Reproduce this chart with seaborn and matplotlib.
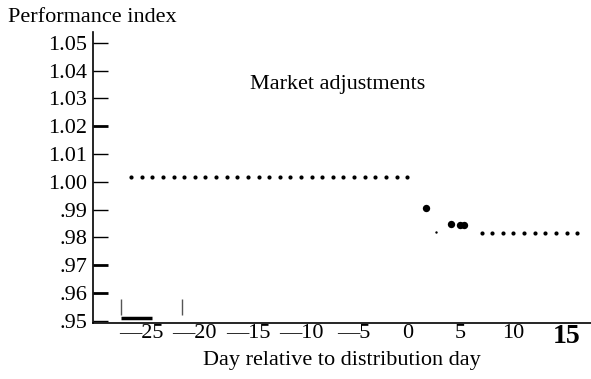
#!/usr/bin/env python3
"""Performance index around the distribution day (scanned-style chart)."""

import matplotlib
matplotlib.use("Agg")
import matplotlib.pyplot as plt
import pandas as pd
import seaborn as sns

# Daily index before the distribution day
PRE_DAYS = [-26, -25, -24, -23, -22, -21, -20, -19, -18, -17, -16, -15, -14,
            -13, -12, -11, -10, -9, -8, -7, -6, -5, -4, -3, -2, -1, 0]
PRE_VALUES = [1.0017, 1.0017, 1.0017, 1.0017, 1.0017, 1.0017, 1.0017, 1.0017,
              1.0017, 1.0017, 1.0017, 1.0017, 1.0017, 1.0017, 1.0017, 1.0017,
              1.0017, 1.0017, 1.0017, 1.0017, 1.0017, 1.0017, 1.0017, 1.0017,
              1.0017, 1.0017, 1.0017]
# Adjustment points just after the distribution day
ADJ_DAYS = [1.8, 4.1, 5.0, 5.3]
ADJ_VALUES = [0.9905, 0.9847, 0.9845, 0.9843]
SMALL_DAYS = [2.7]
SMALL_VALUES = [0.9818]
# Daily index after the adjustment
POST_DAYS = [7, 8, 9, 10, 11, 12, 13, 14, 15, 16]
POST_VALUES = [0.9815, 0.9815, 0.9815, 0.9815, 0.9815, 0.9815, 0.9815,
               0.9815, 0.9815, 0.9815]
# Stray marks near the bottom
MARK_DAYS = [-26.9, -21.2]
BAR_DAYS = (-26.9, -24.0)
BAR_VALUE = 0.9509

Y_TICKS = [1.05, 1.04, 1.03, 1.02, 1.01, 1.00, 0.99, 0.98, 0.97, 0.96, 0.95]
Y_LABELS = ["1.05", "1.04", "1.03", "1.02", "1.01", "1.00",
            ".99", ".98", ".97", ".96", ".95"]
X_TICKS = [-25, -20, -15, -10, -5, 0, 5, 10, 15]
X_LABELS = ["\u201425", "\u201420", "\u201415", "\u201410", "\u20145",
            "0", "5", "10", "15"]

sns.set_theme(style="white")
plt.rcParams["font.family"] = ["Liberation Serif", "DejaVu Serif"]
plt.rcParams["axes.unicode_minus"] = False

fig = plt.figure(figsize=(5.91, 3.79), dpi=100)
ax = fig.add_axes([0.157, 0.148, 0.843, 0.768])

pre = pd.DataFrame({"day": PRE_DAYS, "value": PRE_VALUES})
post = pd.DataFrame({"day": POST_DAYS, "value": POST_VALUES})
adj = pd.DataFrame({"day": ADJ_DAYS, "value": ADJ_VALUES})
small = pd.DataFrame({"day": SMALL_DAYS, "value": SMALL_VALUES})

sns.scatterplot(data=pre, x="day", y="value", ax=ax, s=9, color="black",
                linewidth=0)
sns.scatterplot(data=post, x="day", y="value", ax=ax, s=9, color="black",
                linewidth=0)
sns.scatterplot(data=adj, x="day", y="value", ax=ax, s=28, color="black",
                linewidth=0)
sns.scatterplot(data=small, x="day", y="value", ax=ax, s=3, color="black",
                linewidth=0)

# Stray marks
ax.vlines(MARK_DAYS, 0.9521, 0.9579, color="#555555", lw=1)
ax.hlines(BAR_VALUE, BAR_DAYS[0], BAR_DAYS[1], color="black", lw=2.5)

ax.set_xlim(-29.6, 17.3)
ax.set_ylim(0.9492, 1.054)

ax.set_yticks(Y_TICKS)
ax.set_yticklabels(Y_LABELS, fontsize=16)
ax.set_xticks(X_TICKS)
ax.set_xticklabels(X_LABELS, fontsize=16)
ax.get_xticklabels()[-1].set_fontsize(20)
ax.get_xticklabels()[-1].set_fontweight("bold")
ax.tick_params(axis="y", left=True, direction="in", length=11, width=1,
               pad=4, colors="black")
ax.tick_params(axis="x", bottom=False, length=0, pad=1, colors="black")
for i in (3, 8, 9):
    ax.yaxis.get_major_ticks()[i].tick1line.set_markeredgewidth(2)

for side in ("top", "right"):
    ax.spines[side].set_visible(False)
for side in ("left", "bottom"):
    ax.spines[side].set_color("black")
    ax.spines[side].set_linewidth(1.2)

ax.set_xlabel("Day relative to distribution day", fontsize=16, labelpad=1,
              color="black")
ax.set_ylabel("")
ax.text(0.492, 0.82, "Market adjustments", transform=ax.transAxes,
        ha="center", va="center", fontsize=16, color="black")
fig.text(0.013, 0.955, "Performance index", ha="left", va="center",
         fontsize=16, color="black")

fig.savefig("out.png", dpi=100)
